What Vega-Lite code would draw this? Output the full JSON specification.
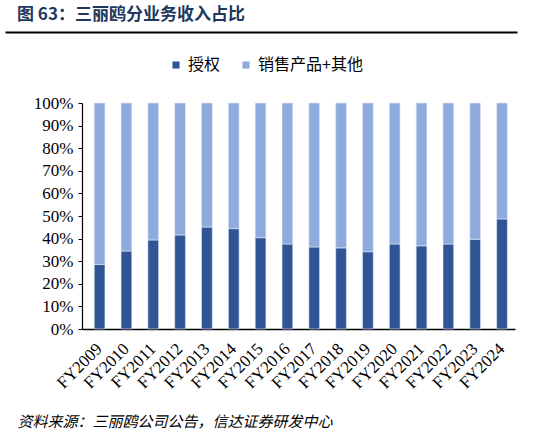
{
  "$schema": "https://vega.github.io/schema/vega-lite/v6.json",
  "background": "white",
  "padding": {"left": 5, "top": 6, "right": 5, "bottom": 0},
  "width": 512,
  "height": 226,
  "config": {
    "view": {"stroke": null},
    "font": "Noto Sans CJK SC"
  },
  "title": {
    "text": "图 63：三丽鸥分业务收入占比",
    "anchor": "start",
    "font": "Noto Sans CJK SC",
    "fontSize": 17,
    "fontWeight": "bold",
    "color": "#22375E",
    "offset": 8,
    "dx": 12
  },
  "data": {
    "values": [
      {"year": "FY2009", "type": "授权", "share": 28.6},
      {"year": "FY2009", "type": "销售产品+其他", "share": 71.4},
      {"year": "FY2010", "type": "授权", "share": 34.5},
      {"year": "FY2010", "type": "销售产品+其他", "share": 65.5},
      {"year": "FY2011", "type": "授权", "share": 39.4},
      {"year": "FY2011", "type": "销售产品+其他", "share": 60.6},
      {"year": "FY2012", "type": "授权", "share": 41.6},
      {"year": "FY2012", "type": "销售产品+其他", "share": 58.4},
      {"year": "FY2013", "type": "授权", "share": 45.1},
      {"year": "FY2013", "type": "销售产品+其他", "share": 54.9},
      {"year": "FY2014", "type": "授权", "share": 44.4},
      {"year": "FY2014", "type": "销售产品+其他", "share": 55.6},
      {"year": "FY2015", "type": "授权", "share": 40.4},
      {"year": "FY2015", "type": "销售产品+其他", "share": 59.6},
      {"year": "FY2016", "type": "授权", "share": 37.6},
      {"year": "FY2016", "type": "销售产品+其他", "share": 62.4},
      {"year": "FY2017", "type": "授权", "share": 36.3},
      {"year": "FY2017", "type": "销售产品+其他", "share": 63.7},
      {"year": "FY2018", "type": "授权", "share": 35.9},
      {"year": "FY2018", "type": "销售产品+其他", "share": 64.1},
      {"year": "FY2019", "type": "授权", "share": 34.2},
      {"year": "FY2019", "type": "销售产品+其他", "share": 65.8},
      {"year": "FY2020", "type": "授权", "share": 37.6},
      {"year": "FY2020", "type": "销售产品+其他", "share": 62.4},
      {"year": "FY2021", "type": "授权", "share": 36.8},
      {"year": "FY2021", "type": "销售产品+其他", "share": 63.2},
      {"year": "FY2022", "type": "授权", "share": 37.6},
      {"year": "FY2022", "type": "销售产品+其他", "share": 62.4},
      {"year": "FY2023", "type": "授权", "share": 39.7},
      {"year": "FY2023", "type": "销售产品+其他", "share": 60.3},
      {"year": "FY2024", "type": "授权", "share": 48.7},
      {"year": "FY2024", "type": "销售产品+其他", "share": 51.3}
    ]
  },
  "resolve": {"scale": {"x": "independent"}, "axis": {"x": "independent"}},
  "layer": [
    {
      "mark": {"type": "bar", "stroke": "#E4EAF5", "strokeWidth": 0.6},
      "encoding": {
        "x": {
          "field": "year",
          "type": "nominal",
          "sort": null,
          "scale": {"range": [77, 510], "paddingInner": 0.6, "paddingOuter": 0.37, "align": 0.616},
          "axis": {
            "orient": "bottom",
            "title": "资料来源：三丽鸥公司公告，信达证券研发中心",
            "titleFont": "Noto Sans CJK SC",
            "titleFontSize": 15,
            "titleFontWeight": "normal",
            "titleFontStyle": "italic",
            "titleColor": "#000000",
            "titleAlign": "left",
            "titleAnchor": "start",
            "titleBaseline": "middle",
            "titleX": 12,
            "titleY": 92,
            "labelAngle": -45,
            "labelAlign": "right",
            "labelBaseline": "middle",
            "labelFont": "Liberation Serif",
            "labelFontSize": 17,
            "labelColor": "#000000",
            "ticks": false,
            "domain": true,
            "domainColor": "#000000",
            "domainWidth": 1.5,
            "labelPadding": 17
          }
        },
        "y": {
          "field": "share",
          "type": "quantitative",
          "stack": "normalize",
          "scale": {"domain": [0, 1]},
          "axis": {
            "title": null,
            "format": ".0%",
            "values": [0, 0.1, 0.2, 0.3, 0.4, 0.5, 0.6, 0.7, 0.8, 0.9, 1],
            "grid": false,
            "offset": -77,
            "labelFont": "Liberation Serif",
            "labelFontSize": 17,
            "labelColor": "#000000",
            "tickColor": "#000000",
            "tickSize": 4,
            "domainColor": "#000000",
            "domainWidth": 1.2,
            "labelPadding": 5
          }
        },
        "order": {"field": "type", "sort": "ascending"},
        "color": {
          "field": "type",
          "type": "nominal",
          "scale": {"domain": ["授权", "销售产品+其他"], "range": ["#2F5597", "#8FAADC"]},
          "legend": {
            "title": null,
            "orient": "none",
            "legendX": 163,
            "legendY": -46,
            "direction": "horizontal",
            "symbolType": "square",
            "symbolSize": 50,
            "symbolStrokeWidth": 0,
            "labelOffset": 4,
            "labelFont": "Noto Sans CJK SC",
            "labelFontSize": 16,
            "labelColor": "#000000",
            "columnPadding": 17
          }
        }
      }
    },
    {
      "mark": {"type": "text", "text": ""},
      "encoding": {
        "x": {
          "field": "year",
          "type": "nominal",
          "sort": null,
          "axis": {
            "orient": "top",
            "offset": 71,
            "title": null,
            "labels": false,
            "ticks": false,
            "domain": true,
            "domainColor": "#000000",
            "domainWidth": 2
          }
        }
      }
    }
  ]
}
